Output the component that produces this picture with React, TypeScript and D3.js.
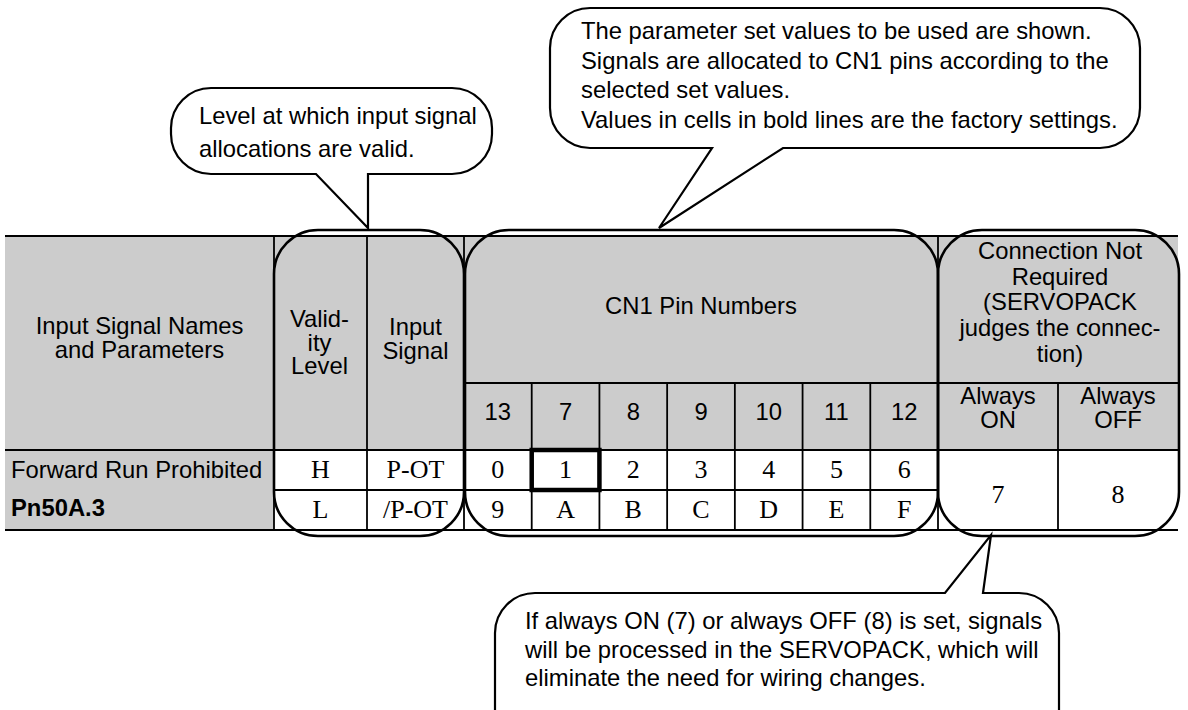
import React from "react";
import * as d3 from "d3";

// ---------- data ----------
const nameHeader = ["Input Signal Names", "and Parameters"];
const levelHeader = ["Valid-", "ity", "Level"];
const signalHeader = ["Input", "Signal"];
const pinHeader = "CN1 Pin Numbers";
const notRequiredHeader = ["Connection Not", "Required", "(SERVOPACK", "judges the connec-", "tion)"];
const alwaysHeaders = [["Always", "ON"], ["Always", "OFF"]];
const pinNumbers = ["13", "7", "8", "9", "10", "11", "12"];
const levels = ["H", "L"];
const signals = ["P-OT", "/P-OT"];
const highValues = ["0", "1", "2", "3", "4", "5", "6"];
const lowValues = ["9", "A", "B", "C", "D", "E", "F"];
const alwaysValues = ["7", "8"];
const factoryPin = "7";
const signalName = "Forward Run Prohibited";
const paramName = "Pn50A.3";
const calloutLevel = ["Level at which input signal", "allocations are valid."];
const calloutPins = [
  "The parameter set values to be used are shown.",
  "Signals are allocated to CN1 pins according to the",
  "selected set values.",
  "Values in cells in bold lines are the factory settings.",
];
const calloutAlways = [
  "If always ON (7) or always OFF (8) is set, signals",
  "will be processed in the SERVOPACK, which will",
  "eliminate the need for wiring changes.",
];

// ---------- layout ----------
const W = 1188;
const H = 710;
const SANS = "'Liberation Sans', Arial, sans-serif";
const SERIF = "'Liberation Serif', 'Times New Roman', serif";
const FS = 23.8;
const SERIF_FS = 26;

const colX = { left: 5, level: 274, signal: 367, pins: 464, notReq: 938, off: 1058, right: 1178 };
const rowY = { top: 236, sub: 383, head: 450, mid: 490, bottom: 530 };

const pinScale = d3.scaleBand<string>().domain(pinNumbers).range([colX.pins, colX.notReq]).padding(0);
const alwaysScale = d3.scaleBand<number>().domain([0, 1]).range([colX.notReq, colX.right]).padding(0);
const rowScale = d3.scaleBand<number>().domain([0, 1]).range([rowY.head, rowY.bottom]).padding(0);

function roundRectPath(x0: number, y0: number, x1: number, y1: number, r: number) {
  const p = d3.path();
  p.moveTo(x0 + r, y0);
  p.lineTo(x1 - r, y0);
  p.arcTo(x1, y0, x1, y0 + r, r);
  p.lineTo(x1, y1 - r);
  p.arcTo(x1, y1, x1 - r, y1, r);
  p.lineTo(x0 + r, y1);
  p.arcTo(x0, y1, x0, y1 - r, r);
  p.lineTo(x0, y0 + r);
  p.arcTo(x0, y0, x0 + r, y0, r);
  p.closePath();
  return p.toString();
}

function calloutPath(
  x0: number, y0: number, x1: number, y1: number, r: number,
  side: "top" | "bottom", a: number, b: number, tx: number, ty: number
) {
  const p = d3.path();
  p.moveTo(x0 + r, y0);
  if (side === "top") {
    p.lineTo(a, y0);
    p.lineTo(tx, ty);
    p.lineTo(b, y0);
  }
  p.lineTo(x1 - r, y0);
  p.arcTo(x1, y0, x1, y0 + r, r);
  p.lineTo(x1, y1 - r);
  p.arcTo(x1, y1, x1 - r, y1, r);
  if (side === "bottom") {
    p.lineTo(b, y1);
    p.lineTo(tx, ty);
    p.lineTo(a, y1);
  }
  p.lineTo(x0 + r, y1);
  p.arcTo(x0, y1, x0, y1 - r, r);
  p.lineTo(x0, y0 + r);
  p.arcTo(x0, y0, x0 + r, y0, r);
  p.closePath();
  return p.toString();
}

function Lines({ lines, x, y0, dy, anchor = "middle", font = SANS, size = FS, weight = "normal" }: any) {
  return (
    <text x={x} y={y0} textAnchor={anchor} fontFamily={font} fontSize={size} fontWeight={weight} fill="#000">
      {lines.map((l: string, i: number) => (
        <tspan key={i} x={x} y={y0 + i * dy}>{l}</tspan>
      ))}
    </text>
  );
}

export default function App() {
  const gray = "#cccccc";
  const lw = 1.8;
  const rowBase = (i: number) => (rowScale(i) as number) + 28;

  return (
    <svg width={W} height={H} style={{ position: "absolute", left: 0, top: 0, background: "#fff" }}>
      {/* fills */}
      <rect x={colX.left} y={rowY.top} width={colX.right - colX.left} height={rowY.head - rowY.top} fill={gray} />
      <rect x={colX.left} y={rowY.head} width={colX.level - colX.left} height={rowY.bottom - rowY.head} fill={gray} />

      {/* grid lines */}
      <g stroke="#000" strokeWidth={lw}>
        <line x1={colX.left} x2={colX.right} y1={rowY.top} y2={rowY.top} />
        <line x1={colX.pins} x2={colX.right} y1={rowY.sub} y2={rowY.sub} />
        <line x1={colX.left} x2={colX.right} y1={rowY.head} y2={rowY.head} />
        <line x1={colX.level} x2={colX.notReq} y1={rowY.mid} y2={rowY.mid} />
        <line x1={colX.left} x2={colX.right} y1={rowY.bottom} y2={rowY.bottom} />
        {[colX.level, colX.signal, colX.pins, colX.notReq].map((x, i) => (
          <line key={i} x1={x} x2={x} y1={rowY.top} y2={rowY.bottom} />
        ))}
        {pinNumbers.slice(1).map((p) => (
          <line key={p} x1={pinScale(p)} x2={pinScale(p)} y1={rowY.sub} y2={rowY.bottom} />
        ))}
        <line x1={alwaysScale(1)} x2={alwaysScale(1)} y1={rowY.sub} y2={rowY.bottom} />
      </g>

      {/* header text */}
      <Lines lines={nameHeader} x={(colX.left + colX.level) / 2} y0={334} dy={24} />
      <Lines lines={levelHeader} x={(colX.level + colX.signal) / 2 - 1} y0={327} dy={23.5} />
      <Lines lines={signalHeader} x={(colX.signal + colX.pins) / 2} y0={335} dy={23.5} />
      <Lines lines={[pinHeader]} x={(colX.pins + colX.notReq) / 2} y0={314} dy={0} />
      <Lines lines={notRequiredHeader} x={(colX.notReq + colX.right) / 2 + 2} y0={259} dy={25.7} />
      {pinNumbers.map((p) => (
        <Lines key={p} lines={[p]} x={(pinScale(p) as number) + pinScale.bandwidth() / 2} y0={420} dy={0} />
      ))}
      {alwaysHeaders.map((l, i) => (
        <Lines key={i} lines={l} x={(alwaysScale(i) as number) + alwaysScale.bandwidth() / 2} y0={404} dy={23.5} />
      ))}

      {/* body text */}
      <text x={11} y={478} fontFamily={SANS} fontSize={FS} fill="#000">{signalName}</text>
      <text x={11} y={516} fontFamily={SANS} fontSize={FS} fontWeight="bold" fill="#000">{paramName}</text>
      {levels.map((l, i) => (
        <Lines key={l} lines={[l]} x={(colX.level + colX.signal) / 2} y0={rowBase(i)} dy={0} font={SERIF} size={SERIF_FS} />
      ))}
      {signals.map((s, i) => (
        <Lines key={s} lines={[s]} x={(colX.signal + colX.pins) / 2} y0={rowBase(i)} dy={0} font={SERIF} size={SERIF_FS} />
      ))}
      {[highValues, lowValues].map((vals, i) =>
        vals.map((v, j) => (
          <Lines key={i + "-" + j} lines={[v]} x={(pinScale(pinNumbers[j]) as number) + pinScale.bandwidth() / 2} y0={rowBase(i)} dy={0} font={SERIF} size={SERIF_FS} />
        ))
      )}
      {alwaysValues.map((v, i) => (
        <Lines key={v} lines={[v]} x={(alwaysScale(i) as number) + alwaysScale.bandwidth() / 2} y0={503} dy={0} font={SERIF} size={SERIF_FS} />
      ))}

      {/* factory setting bold cell */}
      <rect x={pinScale(factoryPin)} y={rowScale(0)} width={pinScale.bandwidth()} height={rowScale.bandwidth()} fill="none" stroke="#000" strokeWidth={4.5} />

      {/* highlight rounded rectangles */}
      <g fill="none" stroke="#000" strokeWidth={2.6}>
        <path d={roundRectPath(colX.level, 230, colX.pins, 536, 44)} />
        <path d={roundRectPath(colX.pins + 1, 230, colX.notReq, 536, 44)} />
        <path d={roundRectPath(colX.notReq, 230, colX.right + 1, 536, 44)} />
      </g>

      {/* callouts */}
      <g fill="#fff" stroke="#000" strokeWidth={2.2}>
        <path d={calloutPath(171, 88, 492, 174, 40, "bottom", 316, 368, 368, 228)} />
        <path d={calloutPath(550, 8, 1140, 148, 40, "bottom", 712, 783, 659, 228)} />
        <path d={calloutPath(495, 593, 1059, 760, 40, "top", 945, 983, 991, 535)} />
      </g>
      <Lines lines={calloutLevel} x={199} y0={124} dy={32.5} anchor="start" />
      <Lines lines={calloutPins} x={581} y0={39} dy={29.5} anchor="start" />
      <Lines lines={calloutAlways} x={525} y0={629} dy={28.7} anchor="start" />
    </svg>
  );
}
